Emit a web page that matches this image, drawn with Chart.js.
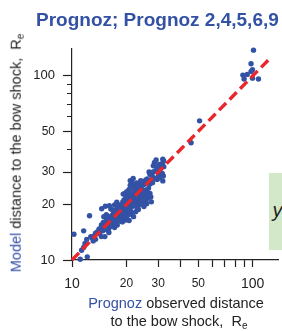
<!DOCTYPE html>
<html><head><meta charset="utf-8">
<script src="https://cdn.jsdelivr.net/npm/chart.js@4.4.1/dist/chart.umd.min.js"></script>
<style>
html,body{margin:0;padding:0;background:#fff;}
#wrap{position:relative;width:282px;height:331px;overflow:hidden;font-family:"Liberation Sans",Arial,sans-serif;color:#222;}
canvas{position:absolute;left:0;top:0;}
.t{position:absolute;white-space:nowrap;}
.blue{color:#3452a4;}
sub{font-size:10px;line-height:0;vertical-align:-3px;}
#title{left:36px;top:9.5px;font-size:19px;line-height:19px;font-weight:bold;color:#3452a4;}
#ytitle{left:16px;top:153px;font-size:14.5px;line-height:14.5px;transform:translate(-50%,-50%) rotate(-90deg);}
#xt1{left:176px;top:296px;font-size:14.5px;line-height:14.5px;transform:translateX(-50%);}
#xt2{left:179px;top:313.7px;font-size:14.5px;line-height:14.5px;transform:translateX(-50%);}
#gbox{position:absolute;left:269px;top:173px;width:20px;height:77px;background:#d3e8c9;overflow:hidden;}
#gy{position:absolute;left:3.5px;top:26.5px;font-size:20px;line-height:20px;font-style:italic;color:#222;white-space:nowrap;}
</style></head><body>
<div id="wrap">
<div id="gbox"><div id="gy">y = x</div></div>
<canvas id="c" width="282" height="331"></canvas>
<div class="t" id="title">Prognoz; Prognoz 2,4,5,6,9</div>
<div class="t" id="ytitle"><span class="blue">Model</span> distance to the bow shock,&nbsp; R<sub>e</sub></div>
<div class="t" id="xt1"><span class="blue">Prognoz</span> observed distance</div>
<div class="t" id="xt2">to the bow shock,&nbsp; R<sub>e</sub></div>
</div>
<script>
// Prognoz observed distance (x) and model distance (y), Re
const observed = [
 101,97.9,99.7,97.9,88.2,93.2,89.6,99.7,107.6,50.8,
 45.6,29.2,31.8,32.2,28.6,31.6,32.2,30.9,28.9,28.1,
 26.7,27,30.1,31.6,32,30.5,31.8,25.6,24.7,29.5,
 30.3,27.8,21.8,21.4,21,22.3,23.5,20.7,22,24,
 25.7,20.3,21.4,22.7,24.5,25,23.5,22.1,20.9,19.9,
 25.7,24,22.7,23.5,22.5,25.3,23.3,24.5,25.5,27,
 27.5,26.5,22.8,21,23,24.2,26,21.7,20.5,22,
 23.9,15.3,16.1,17.2,18.1,19.1,16.8,17.9,19.1,20.3,
 18.3,19.5,17.5,16.7,18.7,16.1,17,17.9,15.5,14.9,
 15.8,16.7,14.55,15.3,16.1,17.2,14.1,14.8,13.8,16,
 14.55,15.2,12.5,10.25,11.6,13.1,12.7,12.06,13.5,13.1,
 11.8,11.6,11.3,11.1,12.15,18.5,19.6,20,18.9,19.8,
 20.6,21.2,20.1,21.5,19,18,17.4,18.6,19.3,20.8,
 21.8,17,16.3,15.7,16.5,17.6,18.2,19.4,20.2,21,
 22.3,21.3,20.6,19.8,17.8,15.9,14.9,14.2,13.5,12.9,
 15.5,17.8,20.1,19.2,23.1,24.8,26.3,25,22.9,23.6,
 24.9,26.1,25.3,27.9,28.6,29.6,30.8,29.9,28.2,14.6,
 17.3,18.8,19.9,20.4,21.6,22.6,23.2,24.4,18.4,19,
 20,21,22,16.9,15.6,14.4,13.4,17.7,16.4,15,
 19.6,21.9,24,26.9,27.3,25.9,23.8,21.9,20.7
];
const model = [
 138,116.5,108,105.6,101,101.9,96.2,97.2,96.2,57,
 43.3,34.9,35.3,34.5,33.9,33.5,32.1,31.5,30.5,30.1,
 30.1,29.2,28.9,29.5,28.6,28,26.9,27.2,26.6,31,
 33,28.5,27.7,26.6,25.5,25.5,25.5,24.2,24.2,24.2,
 24,23,23,23.2,23,21.9,22.1,22.1,21.9,21.9,
 21.2,20.9,20.7,19.9,18.3,20.3,18.8,21.2,22.1,23,
 20.7,24.5,26.2,27,24.8,25.2,23.2,22.8,22.5,21.3,
 22.6,19.6,19.7,19.9,19.9,20.7,18.7,18.8,19.1,19.4,
 17.9,18,17.5,17.5,17.2,16.8,16.6,16.5,16.5,16,
 15.8,15.8,15.5,15.3,15,15,14.7,14.4,14.2,14.1,
 13.4,13.4,17.4,13.8,14.4,13.4,13.4,12.95,12.95,12.7,
 12.3,11.7,11.3,10.1,10.4,19.5,20.2,20.8,18.5,19,
 20,20.4,18.6,19.5,17.8,17,16,16.8,17,18.9,
 20,17.9,17.2,16.9,16.2,18.3,18.2,21.2,21.6,21,
 20,18,17.6,16.5,15.5,14.6,14.8,13.9,14,13.2,
 17.6,19.3,23.5,22.8,21.4,22.6,21.7,19.5,19.3,23.8,
 25.6,27.6,26.2,26.3,27.8,27.4,30,32,32.5,19,
 18,19.9,20.3,21,21.6,22.8,23.3,24,16.3,16.1,
 17.2,18.6,19.9,15.4,14.6,14.9,13.7,20.6,18.9,17.2,
 23,25,27,25.8,22,20.2,20.3,17.2,16.4
];
// y = x reference line end points
const lineX = [10, 122];
const lineY = [10, 122];
// ticks
const tickValues = [10,20,30,40,50,60,70,80,90,100];
const labelValues = [10,20,30,50,100];
const bigLabels = [10,100];

const FAM = '"Liberation Sans", Arial, sans-serif';
const points = observed.map((v,i)=>({x:v,y:model[i]}));
const refLine = lineX.map((v,i)=>({x:v,y:lineY[i]}));

function axisCommon(isY){
  return {
    type:'logarithmic',
    min:10,
    max: isY ? 140 : 138,
    afterBuildTicks: s => { s.ticks = tickValues.map(v=>({value:v})); },
    ticks:{
      autoSkip:false, maxRotation:0, minRotation:0,
      padding: isY ? 8 : 9,
      color:'#222',
      font: c => ({family:FAM, size: (c.tick && bigLabels.includes(c.tick.value)) ? (isY?13:14) : 12}),
      callback: v => labelValues.includes(v) ? String(v) : ''
    },
    grid:{
      drawOnChartArea:false, drawTicks:true,
      tickLength: isY ? 9 : 7,
      tickColor:'#222', tickWidth:1.2,
      tickBorderDash: c => (isY && c.tick && !labelValues.includes(c.tick.value)) ? [0,4,5,50] : []
    },
    border:{display:true, color:'#222', width:1.2}
  };
}
const xAxis = axisCommon(false);
xAxis.position = 'bottom';
xAxis.afterFit = s => { s.height = 71; };
const yAxis = axisCommon(true);
yAxis.position = 'left';
yAxis.afterFit = s => { s.width = 72; };

new Chart(document.getElementById('c'), {
  type:'scatter',
  data:{datasets:[
    {type:'line', data:refLine, borderColor:'#e8262b', borderWidth:3.4, borderDash:[10,5],
     pointRadius:0, fill:false, showLine:true, clip:false},
    {data:points, backgroundColor:'#3352a5', borderWidth:0, pointRadius:2.7, clip:false}
  ]},
  options:{
    responsive:false, devicePixelRatio:1, animation:false,
    layout:{padding:{top:49,left:0,right:0,bottom:0}},
    plugins:{legend:{display:false}, tooltip:{enabled:false}, title:{display:false}},
    scales:{x:xAxis, y:yAxis}
  }
});
</script>
</body></html>
